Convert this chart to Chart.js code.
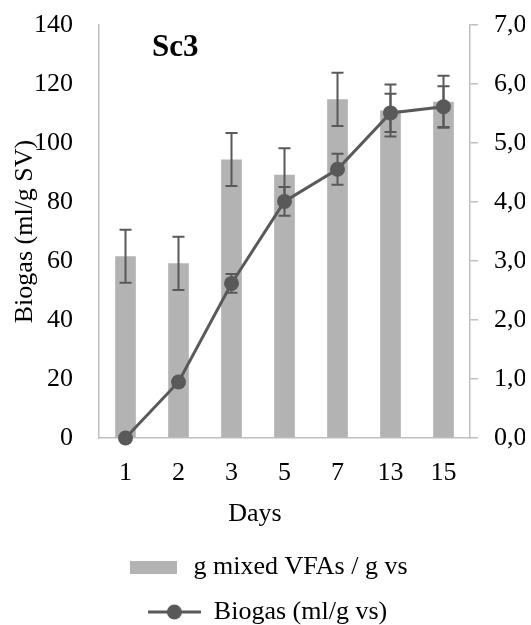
<!DOCTYPE html>
<html>
<head>
<meta charset="utf-8">
<script src="https://cdn.jsdelivr.net/npm/chart.js@4/dist/chart.umd.min.js"></script>
<style>
  body { margin: 0; background: #fff; }
</style>
</head>
<body>
<canvas id="sc3" width="531" height="625"></canvas>
<script>
var days = ['1', '2', '3', '5', '7', '13', '15'];
var vfa = [3.08, 2.96, 4.72, 4.46, 5.74, 5.55, 5.70];
var vfaErr = [0.45, 0.45, 0.45, 0.45, 0.45, 0.44, 0.44];
var biogas = [0, 19, 52.4, 80.2, 91.1, 110.2, 112.3];
var biogasErr = [0, 0, 3.2, 4.85, 5.25, 6.5, 6.9];

var FONT = 'Liberation Serif';
var barColor = '#b3b3b3';
var lineColor = '#595959';
var axisColor = '#bfbfbf';

function drawErrors(chart, meta, errs) {
  var ctx = chart.ctx;
  var scale = chart.scales[meta.yAxisID];
  var values = chart.data.datasets[meta.index].data;
  ctx.save();
  ctx.strokeStyle = lineColor;
  ctx.lineWidth = 2;
  meta.data.forEach(function(el, i) {
    var e = errs[i];
    if (!e) return;
    var x = el.x;
    var top = scale.getPixelForValue(values[i] + e);
    var bot = scale.getPixelForValue(values[i] - e);
    ctx.beginPath();
    ctx.moveTo(x, top); ctx.lineTo(x, bot);
    ctx.moveTo(x - 6, top); ctx.lineTo(x + 6, top);
    ctx.moveTo(x - 6, bot); ctx.lineTo(x + 6, bot);
    ctx.stroke();
  });
  ctx.restore();
}

var errorBars = {
  id: 'errorBars',
  beforeDatasetDraw: function(chart, args) {
    if (args.index === 1) drawErrors(chart, args.meta, biogasErr);
  },
  afterDatasetDraw: function(chart, args) {
    if (args.index === 0) drawErrors(chart, args.meta, vfaErr);
  }
};

// "Sc3" inside the plot and the "Days" title
var labels = {
  id: 'labels',
  afterDraw: function(chart) {
    var ctx = chart.ctx, a = chart.chartArea;
    ctx.save();
    ctx.fillStyle = '#000';
    ctx.textBaseline = 'alphabetic';
    ctx.font = 'bold 31px "' + FONT + '"';
    ctx.textAlign = 'left';
    ctx.fillText('Sc3', a.left + 53, a.top + 31);
    ctx.font = '26px "' + FONT + '"';
    ctx.textAlign = 'center';
    ctx.textBaseline = 'middle';
    ctx.fillText('Days', a.left + 156, a.bottom + 76);
    ctx.restore();
  }
};

function barSwatch() {
  var c = document.createElement('canvas');
  c.width = 47; c.height = 13;
  var g = c.getContext('2d');
  g.fillStyle = barColor;
  g.fillRect(0, 0, 47, 13);
  return c;
}
function lineSwatch() {
  var c = document.createElement('canvas');
  c.width = 53; c.height = 16;
  var g = c.getContext('2d');
  g.strokeStyle = lineColor;
  g.lineWidth = 3;
  g.beginPath(); g.moveTo(0, 8); g.lineTo(53, 8); g.stroke();
  g.fillStyle = lineColor;
  g.beginPath(); g.arc(26.5, 8, 7.5, 0, Math.PI * 2); g.fill();
  return c;
}

// fixed widths, and no extra room above/below the value axes
function fitY(width) {
  return function(s) {
    s.width = width;
    s.paddingTop = 0;
    s.paddingBottom = 0;
  };
}

var ctx = document.getElementById('sc3');
var chart = new Chart(ctx, {
  type: 'bar',
  data: {
    labels: days,
    datasets: [
      {
        label: 'g mixed VFAs / g vs',
        data: vfa,
        yAxisID: 'y1',
        backgroundColor: barColor,
        barPercentage: 0.39,
        categoryPercentage: 1,
        order: 2
      },
      {
        type: 'line',
        label: 'Biogas (ml/g vs)',
        data: biogas,
        yAxisID: 'y',
        borderColor: lineColor,
        backgroundColor: lineColor,
        borderWidth: 3,
        pointRadius: 7.5,
        pointBackgroundColor: lineColor,
        pointBorderWidth: 0,
        tension: 0,
        clip: false,
        order: 1
      }
    ]
  },
  plugins: [errorBars, labels],
  options: {
    responsive: false,
    animation: false,
    layout: { padding: { top: 25, left: 10, right: 6, bottom: -10 } },
    scales: {
      x: {
        grid: { display: true, drawOnChartArea: false, drawTicks: false },
        border: { color: axisColor, width: 1.5 },
        ticks: { color: '#000', font: { family: FONT, size: 26 }, padding: 20 },
        afterFit: function(s) { s.height = 97; }
      },
      y: {
        position: 'left',
        min: 0, max: 140,
        grid: { display: true, drawOnChartArea: false, drawTicks: false },
        border: { color: axisColor, width: 1.5 },
        ticks: { stepSize: 20, color: '#000', font: { family: FONT, size: 26 }, padding: 26 },
        title: {
          display: true,
          text: 'Biogas (ml/g SV)',
          color: '#000',
          font: { family: FONT, size: 26 },
          padding: 0
        },
        afterFit: fitY(89)
      },
      y1: {
        position: 'right',
        min: 0, max: 7,
        grid: { display: true, drawOnChartArea: false, drawTicks: true, tickLength: 8, color: axisColor, lineWidth: 1.5 },
        border: { color: axisColor, width: 1.5 },
        ticks: {
          stepSize: 1, color: '#000', font: { family: FONT, size: 26 }, padding: 16,
          callback: function(v) { return v.toFixed(1).replace('.', ','); }
        },
        afterFit: fitY(55)
      }
    },
    plugins: {
      tooltip: { enabled: false },
      legend: {
        position: 'bottom',
        labels: {
          color: '#000',
          font: { family: FONT, size: 26 },
          usePointStyle: true,
          pointStyleWidth: 53,
          padding: 19,
          generateLabels: function(c) {
            var ds = c.data.datasets;
            return [
              { text: ds[0].label, datasetIndex: 0, pointStyle: barSwatch(), fillStyle: barColor, strokeStyle: barColor, lineWidth: 0, fontColor: '#000' },
              { text: ds[1].label, datasetIndex: 1, pointStyle: lineSwatch(), fillStyle: lineColor, strokeStyle: lineColor, lineWidth: 0, fontColor: '#000' }
            ];
          }
        }
      }
    }
  }
});
</script>
</body>
</html>
